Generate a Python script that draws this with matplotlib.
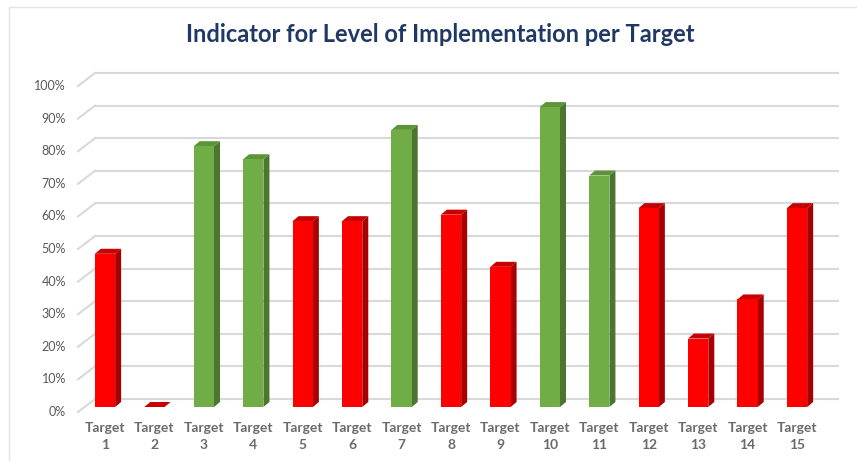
import numpy as np
import matplotlib
matplotlib.use('Agg')
from matplotlib import pyplot as plt
from matplotlib.patches import Polygon
from matplotlib.lines import Line2D

''' Data '''
targets = ['Target\n%d' % i for i in range(1, 16)]
level = [0.47, 0.00, 0.80, 0.76, 0.57, 0.57, 0.85, 0.59, 0.43, 0.92,
         0.71, 0.61, 0.21, 0.33, 0.61]
# green = target reached, red = not reached
status = ['red', 'red', 'green', 'green', 'red', 'red', 'green', 'red', 'red',
          'green', 'green', 'red', 'red', 'red', 'red']
yticks = np.arange(0, 1.01, 0.1)

''' Styling '''
faces = {'red': ('#FF0000', '#A80000', '#C80000'),
         'green': ('#70AD47', '#4B7630', '#5E9438')}
grid_col = '#D9D9D9'
text_col = '#595959'
title_col = '#1F3864'

W, H = 857, 461
fig = plt.figure(figsize=(W/100, H/100), dpi=100)
ax = fig.add_axes([0, 0, 1, 1])
ax.axis('off')

# pixel layout: category 1 centre at x=105px, step 49.43px
# value 0 at y=407px (from top), 1.0 is 326px higher
x0_px, step_px = 105, 49.43
y0_px, scale_px = 407, 326
ax.set_xlim(1 - x0_px/step_px, 1 + (W - x0_px)/step_px)
ax.set_ylim(-(H - y0_px)/scale_px, y0_px/scale_px)

def px2x(px):
    return 1 + (px - x0_px)/step_px

def px2dy(px):
    return px/scale_px

# depth offsets for the fake 3d look
dx = px2x(6) - px2x(0)
dy = px2dy(5)
bw = 0.41

# gridlines: slanted floor part in front, straight on the back wall
back_off = px2dy(8)
front_off = -px2dy(5)
for v in yticks:
    ax.add_line(Line2D([px2x(78), px2x(95)], [v + front_off, v + back_off],
                       color=grid_col, lw=1.5, zorder=1))
    ax.add_line(Line2D([px2x(95), px2x(838)], [v + back_off, v + back_off],
                       color=grid_col, lw=1.5, zorder=1))
    ax.text(px2x(66), v + front_off, '%d%%' % round(v*100), ha='right',
            va='center', fontsize=9, color=text_col, family='Lato')

xs = np.arange(1, len(level) + 1)
for x, v, s in zip(xs, level, status):
    front, side, top = faces[s]
    l, r = x - bw/2, x + bw/2
    ax.add_patch(Polygon([(r, 0), (r + dx, dy), (r + dx, v + dy), (r, v)],
                         closed=True, fc=side, ec='none', zorder=3))
    ax.add_patch(Polygon([(l, v), (l + dx, v + dy), (r + dx, v + dy), (r, v)],
                         closed=True, fc=top, ec='none', zorder=3))
    if v > 0:
        ax.bar(x, v, width=bw, color=front, zorder=4)

for x, lab in zip(xs, targets):
    ax.text(x, -px2dy(15), lab, ha='center', va='top', fontsize=10,
            fontweight='bold', color='#6A6A6A', family='Lato',
            linespacing=1.5)

fig.text(440/W, 1 - 35/H, 'Indicator for Level of Implementation per Target',
         ha='center', va='center', fontsize=17, fontweight='bold',
         color=title_col, family='Lato')

# faint chart frame
fig.add_artist(Line2D([9/W, 1], [1 - 7/H, 1 - 7/H], color='#E3E3E3', lw=1))
fig.add_artist(Line2D([9/W, 9/W], [0, 1 - 7/H], color='#E3E3E3', lw=1))

fig.savefig('out.png', dpi=100)
